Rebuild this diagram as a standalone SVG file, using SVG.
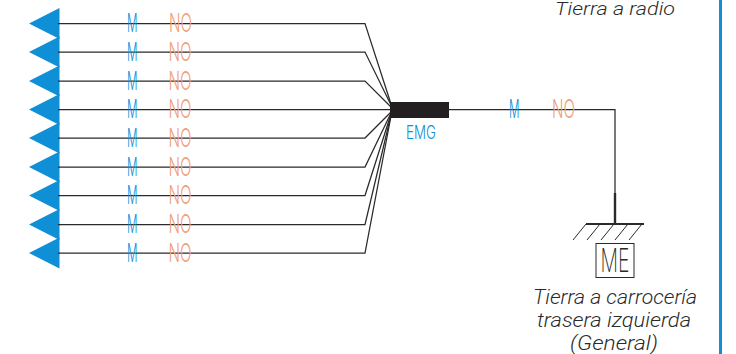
<svg xmlns="http://www.w3.org/2000/svg" width="736" height="354" viewBox="0 0 736 354">
<style>
.w{fill:none;stroke:#2b2a2a;stroke-width:1.25}
.m{fill:#0f8fd6;font-family:"Inter",sans-serif;font-weight:300;font-size:25px}
.n{fill:#f0a078;font-family:"Inter",sans-serif;font-weight:300;font-size:25px}
.e{fill:#0f8fd6;font-family:"Inter",sans-serif;font-weight:300;font-size:18px}
.t{fill:#2b2a2a;font-family:"Roboto",sans-serif;font-weight:300;font-style:italic;font-size:20px;text-anchor:middle}
.g{fill:none;stroke:#2b2a2a;stroke-width:1}
</style>
<rect x="719" y="0" width="3" height="354" fill="#0f8fd6"/>
<g id="antenna" fill="#0f8fd6">
<polygon points="29,23.500 59.500,8 59.500,39"/>
<polygon points="29,52 59.500,36.500 59.500,67.500"/>
<polygon points="29,81 59.500,65.500 59.500,96.500"/>
<polygon points="29,109.500 59.500,94 59.500,125"/>
<polygon points="29,138 59.500,122.500 59.500,153.500"/>
<polygon points="29,167 59.500,151.500 59.500,182.500"/>
<polygon points="29,195.500 59.500,180 59.500,211"/>
<polygon points="29,224.500 59.500,209 59.500,240"/>
<polygon points="29,253 59.500,237.500 59.500,268.500"/>
</g>
<g id="connectors">
<path class="w" d="M58 23.500H365L391 104"/>
<path class="w" d="M58 52H365L391 105"/>
<path class="w" d="M58 81H365L391 107"/>
<path class="w" d="M58 109.500H391"/>
<path class="w" d="M58 138H365L391 112"/>
<path class="w" d="M58 167H365L391 113"/>
<path class="w" d="M58 195.500H365L391 114"/>
<path class="w" d="M58 224.500H365L391 115"/>
<path class="w" d="M58 253H365L391 116"/>
<path class="w" d="M449 109.500H615V195"/>
<path d="M615 193V224" fill="none" stroke="#2b2a2a" stroke-width="2.400"/>
</g>
<g id="labels-m">
<text class="m" x="127" y="32" textLength="10.500" lengthAdjust="spacingAndGlyphs">M</text>
<text class="m" x="127" y="60.500" textLength="10.500" lengthAdjust="spacingAndGlyphs">M</text>
<text class="m" x="127" y="89.500" textLength="10.500" lengthAdjust="spacingAndGlyphs">M</text>
<text class="m" x="127" y="118" textLength="10.500" lengthAdjust="spacingAndGlyphs">M</text>
<text class="m" x="127" y="146.500" textLength="10.500" lengthAdjust="spacingAndGlyphs">M</text>
<text class="m" x="127" y="175.500" textLength="10.500" lengthAdjust="spacingAndGlyphs">M</text>
<text class="m" x="127" y="204" textLength="10.500" lengthAdjust="spacingAndGlyphs">M</text>
<text class="m" x="127" y="233" textLength="10.500" lengthAdjust="spacingAndGlyphs">M</text>
<text class="m" x="127" y="261.500" textLength="10.500" lengthAdjust="spacingAndGlyphs">M</text>
<text class="m" x="509" y="118" textLength="10.500" lengthAdjust="spacingAndGlyphs">M</text>
</g>
<g id="labels-no">
<text class="n" x="169" y="32" textLength="23" lengthAdjust="spacingAndGlyphs">NO</text>
<text class="n" x="168.500" y="60.500" textLength="23" lengthAdjust="spacingAndGlyphs">NO</text>
<text class="n" x="168.500" y="89.500" textLength="23" lengthAdjust="spacingAndGlyphs">NO</text>
<text class="n" x="168.500" y="118" textLength="23" lengthAdjust="spacingAndGlyphs">NO</text>
<text class="n" x="168.500" y="146.500" textLength="23" lengthAdjust="spacingAndGlyphs">NO</text>
<text class="n" x="168.500" y="175.500" textLength="23" lengthAdjust="spacingAndGlyphs">NO</text>
<text class="n" x="168.500" y="204" textLength="23" lengthAdjust="spacingAndGlyphs">NO</text>
<text class="n" x="168.500" y="233" textLength="23" lengthAdjust="spacingAndGlyphs">NO</text>
<text class="n" x="168.500" y="261.500" textLength="23" lengthAdjust="spacingAndGlyphs">NO</text>
<text class="n" x="552" y="118" textLength="23" lengthAdjust="spacingAndGlyphs">NO</text>
</g>
<g id="emg">
<rect x="390" y="102" width="59" height="16" fill="#231f20"/>
<text class="e" x="406" y="139" textLength="30" lengthAdjust="spacingAndGlyphs">EMG</text>
</g>
<g id="ground">
<path d="M586 224H644" fill="none" stroke="#2b2a2a" stroke-width="2"/>
<path class="g" d="M586 224L573 240M600 224L587 240M614 224L601 240M628 224L615 240M642 224L629 240"/>
</g>
<g id="me">
<rect x="596" y="243.500" width="38" height="34" fill="none" stroke="#2b2a2a" stroke-width="1"/>
<text x="600.500" y="272" textLength="29" lengthAdjust="spacingAndGlyphs" font-family="Inter, sans-serif" font-weight="200" font-size="33" fill="#2b2a2a">ME</text>
</g>
<g id="text-radio"><text class="t" x="615" y="15" textLength="120" lengthAdjust="spacingAndGlyphs" style="font-size:19px">Tierra a radio</text></g>
<g id="text-carroceria">
<text class="t" x="615" y="304" textLength="164" lengthAdjust="spacingAndGlyphs">Tierra a carrocería</text>
<text class="t" x="614" y="327" textLength="154" lengthAdjust="spacingAndGlyphs">trasera izquierda</text>
<text class="t" x="614" y="350" textLength="88" lengthAdjust="spacingAndGlyphs">(General)</text>
</g>
</svg>
